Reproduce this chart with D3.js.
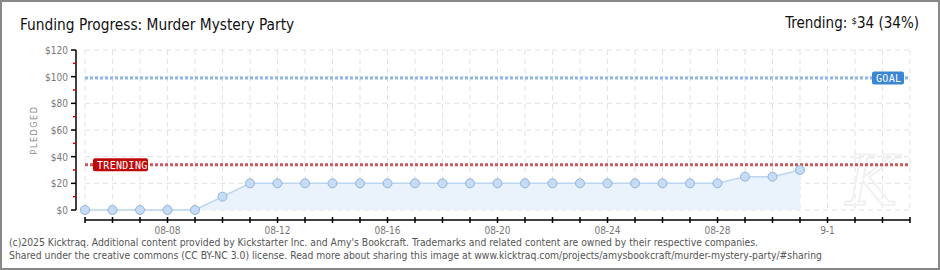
<!DOCTYPE html>
<html>
<head>
<meta charset="utf-8">
<script src="https://cdn.jsdelivr.net/npm/d3@7"></script>
<style>
  body { margin: 0; background: #fff; }
  svg { display: block; font-family: "DejaVu Sans Condensed", "DejaVu Sans", sans-serif; }
</style>
</head>
<body>
<div id="chart"></div>
<script>
// chart data
const dates = ['2025-08-05','2025-08-06','2025-08-07','2025-08-08','2025-08-09','2025-08-10','2025-08-11',
  '2025-08-12','2025-08-13','2025-08-14','2025-08-15','2025-08-16','2025-08-17','2025-08-18','2025-08-19',
  '2025-08-20','2025-08-21','2025-08-22','2025-08-23','2025-08-24','2025-08-25','2025-08-26','2025-08-27',
  '2025-08-28','2025-08-29','2025-08-30','2025-08-31'];
const pledged = [0, 0, 0, 0, 0, 10, 20, 20, 20, 20, 20, 20, 20, 20, 20, 20, 20, 20, 20, 20, 20, 20, 20, 20, 25, 25, 30];
const goal = 99;
const trending = 34;
const yTicks = [0, 20, 40, 60, 80, 100, 120];
const xLabelDates = ['2025-08-08','2025-08-12','2025-08-16','2025-08-20','2025-08-24','2025-08-28','2025-09-01'];
const xLabels = ['08-08','08-12','08-16','08-20','08-24','08-28','9-1'];

const W = 940, H = 270;
const parse = d3.timeParse('%Y-%m-%d');
const data = dates.map((d, i) => ({ date: parse(d), value: pledged[i] }));

const svg = d3.select('#chart').append('svg')
  .attr('width', W).attr('height', H);

// frame
svg.append('rect').attr('x', 1).attr('y', 1).attr('width', W - 2).attr('height', H - 2)
  .attr('fill', '#fff').attr('stroke', '#888').attr('stroke-width', 2);

const x = d3.scaleTime()
  .domain([parse('2025-08-05'), parse('2025-09-04')])
  .range([85, 910]);
const y = d3.scaleLinear().domain([0, 120]).range([210, 50]);

const allDays = d3.timeDay.range(parse('2025-08-05'), d3.timeDay.offset(parse('2025-09-04'), 1));

// grid
const grid = svg.append('g').attr('stroke', '#e2e2e2').attr('stroke-dasharray', '5,4');
grid.selectAll('line.v').data(allDays).enter().append('line')
  .attr('x1', d => x(d)).attr('x2', d => x(d)).attr('y1', 50).attr('y2', 210);
grid.selectAll('line.h').data(yTicks).enter().append('line')
  .attr('x1', 85).attr('x2', 910).attr('y1', d => y(d)).attr('y2', d => y(d));

// watermark
svg.append('text').attr('x', 872).attr('y', 205).attr('text-anchor', 'middle')
  .attr('font-size', 70).attr('font-style', 'italic').attr('fill', 'none')
  .attr('stroke', '#f1f1f1').attr('stroke-width', 2)
  .attr('font-family', 'DejaVu Serif').text('K');

// area + line
svg.append('path').datum(data)
  .attr('fill', '#eaf2fc')
  .attr('d', d3.area().x(d => x(d.date)).y0(y(0)).y1(d => y(d.value)));
svg.append('path').datum(data)
  .attr('fill', 'none').attr('stroke', '#bcd5f0').attr('stroke-width', 1.5)
  .attr('d', d3.line().x(d => x(d.date)).y(d => y(d.value)));

// goal / trending lines
function refLine(val, color) {
  svg.append('line').attr('x1', 85).attr('x2', 910).attr('y1', y(val)).attr('y2', y(val))
    .attr('stroke', color).attr('stroke-width', 3).attr('stroke-dasharray', '3,2');
}
refLine(goal, '#90b6e2');
refLine(trending, '#c9585c');

function badge(x0, yc, w, fill, label) {
  svg.append('rect').attr('x', x0).attr('y', yc - 6.5).attr('width', w).attr('height', 13)
    .attr('rx', 2).attr('fill', fill);
  svg.append('text').attr('x', x0 + 4).attr('y', yc + 4).attr('fill', '#fff')
    .attr('font-size', 10).attr('font-family', 'DejaVu Sans Mono').attr('letter-spacing', 0.3)
    .text(label);
}
badge(872, y(goal), 32, '#3a86d4', 'GOAL');
badge(93, y(trending), 55, '#bf0a0a', 'TRENDING');

// points
svg.selectAll('circle.pt').data(data).enter().append('circle')
  .attr('cx', d => x(d.date)).attr('cy', d => y(d.value)).attr('r', 4.5)
  .attr('fill', '#c4dcf6').attr('stroke', '#93b3d8').attr('stroke-width', 1);

// y axis
const yAxis = svg.append('g').attr('transform', 'translate(76,0)');
yAxis.append('line').attr('y1', 50).attr('y2', 210).attr('stroke', '#000').attr('stroke-width', 1.5);
yAxis.selectAll('line.minor').data(d3.range(10, 120, 20)).enter().append('line')
  .attr('x1', -3).attr('x2', 0).attr('y1', d => y(d)).attr('y2', d => y(d))
  .attr('stroke', '#e00000').attr('stroke-width', 1.5);
yAxis.selectAll('line.major').data(yTicks).enter().append('line')
  .attr('x1', -5).attr('x2', 0).attr('y1', d => y(d)).attr('y2', d => y(d))
  .attr('stroke', '#000').attr('stroke-width', 1.5);
yAxis.selectAll('text').data(yTicks).enter().append('text')
  .attr('x', -8).attr('y', d => y(d) + 4).attr('text-anchor', 'end')
  .attr('font-size', 10).attr('fill', '#777').text(d => '$' + d);

svg.append('text').attr('transform', 'translate(37,130) rotate(-90)')
  .attr('text-anchor', 'middle').attr('font-size', 9).attr('letter-spacing', 1.5)
  .attr('fill', '#888').text('PLEDGED');

// x axis
const xAxis = svg.append('g').attr('transform', 'translate(0,220)');
xAxis.append('line').attr('x1', 85).attr('x2', 910).attr('stroke', '#000').attr('stroke-width', 1.5);
xAxis.selectAll('line.t').data(allDays).enter().append('line')
  .attr('x1', d => x(d)).attr('x2', d => x(d)).attr('y1', -3).attr('y2', 3)
  .attr('stroke', '#000').attr('stroke-width', 1.5);
xAxis.selectAll('text').data(xLabelDates).enter().append('text')
  .attr('x', d => x(parse(d))).attr('y', 14).attr('text-anchor', 'middle')
  .attr('font-size', 10).attr('fill', '#777').text((d, i) => xLabels[i]);

// title
svg.append('text').attr('x', 20).attr('y', 30).attr('font-size', 15.3).attr('fill', '#111')
  .text('Funding Progress: Murder Mystery Party');
const tr = svg.append('text').attr('x', 919).attr('y', 28).attr('text-anchor', 'end')
  .attr('font-size', 15).attr('fill', '#111');
tr.append('tspan').text('Trending: ');
tr.append('tspan').attr('font-size', 9.5).attr('dy', -4).text('$');
tr.append('tspan').attr('dy', 4).text('34 (34%)');

// footer
svg.append('text').attr('x', 9).attr('y', 246).attr('font-size', 10.3).attr('fill', '#555')
  .text("(c)2025 Kicktraq. Additional content provided by Kickstarter Inc. and Amy's Bookcraft. Trademarks and related content are owned by their respective companies.");
svg.append('text').attr('x', 9).attr('y', 259).attr('font-size', 10.3).attr('fill', '#555')
  .text('Shared under the creative commons (CC BY-NC 3.0) license. Read more about sharing this image at www.kicktraq.com/projects/amysbookcraft/murder-mystery-party/#sharing');
</script>
</body>
</html>
